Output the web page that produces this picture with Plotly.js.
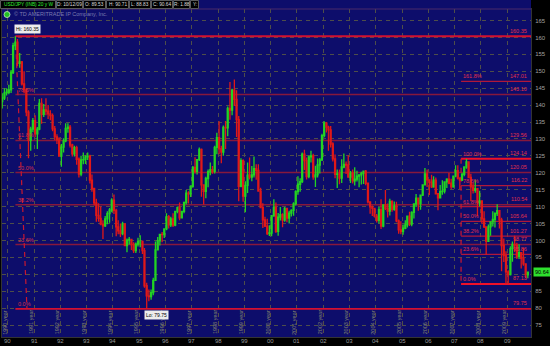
<!DOCTYPE html>
<html><head><meta charset="utf-8">
<script src="https://cdn.plot.ly/plotly-3.0.1.min.js"></script>
<style>html,body{margin:0;padding:0;background:#000;overflow:hidden}#chart{width:550px;height:346px}</style>
</head><body><div id="chart"></div><script>
// ---- Data: USD/JPY, monthly OHLC, Oct 1989 .. Oct 2009 ----
const startYear = 1989, startMonth = 10;
const openP = [
 141.0,142.1,143.6,
 143.8,144.5,149.6,157.6,158.6,152.3,152.8,146.3,144.5,137.9,129.6,132.9,
 135.4,131.5,132.9,140.5,137.3,138.6,138.2,137.4,136.9,133.0,130.6,129.7,
 124.9,127.6,129.4,133.1,133.5,128.2,125.6,127.4,124.0,119.6,123.8,123.9,
 124.7,124.9,117.8,115.4,111.1,107.4,106.5,104.8,104.3,106.4,107.9,109.0,
 111.9,108.9,104.0,102.8,102.0,104.9,98.5,100.1,100.3,98.8,97.0,98.9,
 99.7,99.7,97.0,86.6,83.6,83.4,84.6,88.2,97.2,99.9,101.8,101.7,
 103.4,107.0,104.6,106.4,104.5,108.6,109.7,106.7,108.6,111.2,114.0,113.8,
 116.0,121.6,120.4,123.9,126.9,116.4,114.5,118.3,120.3,120.9,120.4,127.5,
 130.4,127.1,126.1,133.4,133.3,139.0,138.5,144.4,141.7,135.7,116.0,123.6,
 113.1,116.3,119.3,118.7,119.4,121.2,120.7,114.6,109.7,106.1,104.2,102.0,
 102.2,107.3,109.8,102.7,106.9,107.6,106.0,109.5,106.6,108.1,108.9,110.8,
 114.4,116.6,117.4,125.5,123.6,118.9,124.7,125.0,118.8,119.4,122.3,123.8,
 131.0,134.7,133.5,132.7,128.5,124.1,119.5,119.7,118.4,121.7,122.5,122.3,
 118.7,119.9,117.6,118.1,119.0,119.4,119.8,120.5,116.9,111.4,109.9,109.5,
 107.2,105.9,109.1,104.2,110.5,109.5,108.7,111.5,109.2,110.2,105.8,103.1,
 102.6,103.6,104.6,107.2,104.8,108.3,110.8,112.5,110.9,113.4,116.4,119.7,
 117.9,117.2,115.8,117.8,113.8,112.6,114.4,114.6,117.3,118.1,116.9,115.8,
 119.0,120.6,118.4,117.8,119.5,121.7,123.2,118.6,115.8,114.8,115.3,111.2,
 111.7,106.4,104.0,99.7,104.0,105.5,106.2,107.9,108.8,106.1,98.5,95.5,
 90.7,89.9,97.6,98.8,98.6,95.3,96.4,94.7,93.1,89.8
];
const highP = [
 143.5,145.0,145.0,
 146.0,150.4,158.4,160.35,159.5,155.4,153.0,150.0,145.0,138.5,133.6,136.2,
 137.0,133.5,141.8,142.0,140.3,142.0,140.0,138.5,137.5,133.8,131.4,130.5,
 128.5,130.2,134.6,134.6,134.1,128.6,128.0,128.0,124.5,125.0,126.0,125.2,
 126.0,125.3,119.5,115.5,112.3,111.0,110.0,106.0,107.2,108.6,109.6,112.5,
 113.6,109.4,106.0,105.0,105.5,105.0,100.6,101.0,100.5,99.5,99.4,100.8,
 101.5,100.0,97.8,87.5,85.5,85.5,89.0,99.7,101.0,101.8,102.5,103.5,
 108.0,107.5,107.0,108.0,108.8,110.0,111.2,108.8,111.5,114.9,114.5,116.3,
 122.0,124.6,124.0,127.5,127.2,116.6,118.8,121.0,123.0,122.0,128.0,131.8,
 135.2,128.0,134.0,135.3,139.6,146.8,144.8,147.6,144.4,136.8,124.3,124.0,
 117.5,123.0,124.5,122.0,124.8,122.5,122.5,115.6,111.0,107.0,106.4,104.5,
 107.4,112.2,111.2,108.1,109.9,108.0,109.9,109.6,108.8,109.2,111.3,114.8,
 119.0,118.4,126.0,126.8,124.5,125.0,126.5,125.6,122.1,124.2,124.4,131.5,
 135.2,135.0,133.9,133.8,129.0,125.4,121.0,121.0,124.0,125.7,123.3,125.2,
 120.5,121.0,121.6,120.6,119.2,120.3,120.6,120.8,117.0,111.5,110.3,109.6,
 107.8,109.9,112.2,110.6,114.9,110.9,112.3,111.9,111.5,111.4,106.2,105.7,
 104.7,106.0,107.4,108.5,108.6,111.0,113.7,112.6,113.6,116.5,121.4,121.0,
 118.0,119.4,119.0,118.6,114.0,116.4,117.8,117.3,118.4,119.9,118.2,119.2,
 122.2,122.2,118.7,120.0,121.8,124.1,123.3,119.7,117.0,117.9,115.5,114.7,
 111.8,108.6,104.2,104.7,105.6,108.6,108.3,110.7,109.0,106.7,100.6,96.8,
 91.2,98.3,99.7,101.4,99.3,98.9,96.5,97.8,93.2,90.71
];
const lowP = [
 139.0,141.5,142.8,
 143.2,143.6,149.2,156.3,151.5,151.0,145.8,143.5,136.7,124.3,126.5,132.0,
 130.5,127.0,132.6,134.5,136.5,137.0,135.9,135.5,132.3,129.6,128.5,124.8,
 121.8,126.0,129.0,131.8,127.5,124.8,124.8,122.4,118.6,119.0,122.5,122.6,
 123.8,116.8,114.4,110.3,105.5,105.5,104.5,100.4,104.0,104.8,105.2,108.3,
 107.8,101.2,101.8,101.0,101.5,98.3,96.5,98.8,97.2,96.3,96.3,98.2,
 98.0,96.0,86.0,79.75,82.0,82.5,83.8,88.0,97.0,98.5,99.5,100.7,
 103.0,103.5,104.0,104.0,104.2,108.0,106.0,106.5,108.0,110.6,110.9,112.8,
 115.6,119.8,119.5,123.5,112.9,110.6,112.5,115.7,119.3,119.7,119.8,125.5,
 125.5,122.8,125.0,127.0,130.8,135.7,137.0,139.7,130.6,111.6,115.7,111.4,
 108.3,114.0,118.0,117.5,118.6,117.9,114.6,109.6,103.7,104.0,101.6,101.3,
 101.2,107.0,102.2,101.4,105.9,103.9,105.5,105.4,105.0,107.1,107.3,110.3,
 113.5,114.4,117.0,120.8,118.0,118.4,123.0,117.9,115.8,118.6,119.8,123.5,
 130.5,131.9,126.5,127.5,123.3,118.4,115.5,116.6,117.0,121.3,119.6,118.5,
 117.0,116.8,116.2,117.4,115.7,116.5,116.7,116.3,110.9,107.9,107.2,106.8,
 105.3,105.0,103.4,103.9,109.0,106.8,107.4,108.5,108.8,105.4,102.0,101.8,
 101.7,103.3,103.8,104.3,104.2,106.5,109.9,108.8,109.1,113.1,116.3,115.8,
 113.4,115.5,115.6,113.7,108.9,112.4,113.5,113.9,115.5,116.6,115.2,115.6,
 118.7,118.0,115.2,117.6,119.0,121.2,118.4,111.6,113.9,114.1,107.2,110.0,
 104.9,103.7,95.8,99.6,101.4,104.1,103.8,107.2,103.5,90.9,93.6,87.2,
 87.13,89.6,93.7,96.6,94.5,94.5,91.7,92.5,88.8,88.83
];
const closeP = [
 142.1,143.6,143.8,
 144.5,149.6,157.6,158.6,152.3,152.8,146.3,144.5,137.9,129.6,132.9,135.4,
 131.5,132.9,140.5,137.3,138.6,138.2,137.4,136.9,133.0,130.6,129.7,124.9,
 127.6,129.4,133.1,133.5,128.2,125.6,127.4,124.0,119.6,123.8,123.9,124.7,
 124.9,117.8,115.4,111.1,107.4,106.5,104.8,104.3,106.4,107.9,109.0,111.9,
 108.9,104.0,102.8,102.0,104.9,98.5,100.1,100.3,98.8,97.0,98.9,99.7,
 99.7,97.0,86.6,83.6,83.4,84.6,88.2,97.2,99.9,101.8,101.7,103.4,
 107.0,104.6,106.4,104.5,108.6,109.7,106.7,108.6,111.2,114.0,113.8,116.0,
 121.6,120.4,123.9,126.9,116.4,114.5,118.3,120.3,120.9,120.4,127.5,130.4,
 127.1,126.1,133.4,133.3,139.0,138.5,144.4,141.7,135.7,116.0,123.6,113.1,
 116.3,119.3,118.7,119.4,121.2,120.7,114.6,109.7,106.1,104.2,102.0,102.2,
 107.3,109.8,102.7,106.9,107.6,106.0,109.5,106.6,108.1,108.9,110.8,114.4,
 116.6,117.4,125.5,123.6,118.9,124.7,125.0,118.8,119.4,122.3,123.8,131.0,
 134.7,133.5,132.7,128.5,124.1,119.5,119.7,118.4,121.7,122.5,122.3,118.7,
 119.9,117.6,118.1,119.0,119.4,119.8,120.5,116.9,111.4,109.9,109.5,107.2,
 105.9,109.1,104.2,110.5,109.5,108.7,111.5,109.2,110.2,105.8,103.1,102.6,
 103.6,104.6,107.2,104.8,108.3,110.8,112.5,110.9,113.4,116.4,119.7,117.9,
 117.2,115.8,117.8,113.8,112.6,114.4,114.6,117.3,118.1,116.9,115.8,119.0,
 120.6,118.4,117.8,119.5,121.7,123.2,118.6,115.8,114.8,115.3,111.2,111.7,
 106.4,104.0,99.7,104.0,105.5,106.2,107.9,108.8,106.1,98.5,95.5,90.7,
 89.9,97.6,98.8,98.6,95.3,96.4,94.7,93.1,89.8,90.64
];
const lastPrice = 90.64;

// year ticks
const yearDates = ['1990-01-01','1991-01-01','1992-01-01','1993-01-01','1994-01-01','1995-01-01','1996-01-01','1997-01-01','1998-01-01','1999-01-01','2000-01-01','2001-01-01','2002-01-01','2003-01-01','2004-01-01','2005-01-01','2006-01-01','2007-01-01','2008-01-01','2009-01-01'];
const yearShort = ['90','91','92','93','94','95','96','97','98','99','00','01','02','03','04','05','06','07','08','09'];
const yearLong = ['1990 year','1991 year','1992 year','1993 year','1994 year','1995 year','1996 year','1997 year','1998 year','1999 year','2000 year','2001 year','2002 year','2003 year','2004 year','2005 year','2006 year','2007 year','2008 year','2009 year'];

// Fibonacci 1: 1990 high -> 1995 low
const fib1Start = '1990-04-16';
const fib1Anchor = ['1990-04-17','1990-09-24'];
const fib1Levels = [79.75, 98.77, 110.54, 120.05, 129.56, 143.10, 160.35];
const fib1Pct = ['0.0%','23.6%','38.2%','50.0%','61.8%','78.6%',''];
const fib1Price = ['79.75','98.77','110.54','120.05','129.56','143.10','160.35'];
// Fibonacci 2: 2007 high -> 2009 low
const fib2Start = '2007-04-01';
const fib2Levels = [87.13, 95.86, 101.27, 105.64, 110.00, 116.22, 124.14, 147.01];
const fib2Pct = ['0.0%','23.6%','38.2%','50.0%','61.8%','78.6%','100.0%','161.8%'];
const fib2Price = ['87.13','95.86','101.27','105.64','','116.22','124.14','147.01'];

const hiLabel = 'Hi: 160.35', hiDate = '1990-04-16', hiVal = 160.35;
const loLabel = 'Lo: 79.75', loDate = '1995-04-19', loVal = 79.75;
const headerItems = ['USD/JPY (INB) 20 y W','D: 10/12/09','O: 89.53','H: 90.71','L: 88.83','C: 90.64','R: 1.88','Y:'];
const copyrightText = '\u00a9 TD AMERITRADE IP Company, Inc.';

// ---- build ----
const dates = openP.map((_, i) => {
  const m0 = startMonth - 1 + i;
  const y = startYear + Math.floor(m0 / 12), m = (m0 % 12) + 1;
  return y + '-' + String(m).padStart(2, '0') + '-15';
});

const L = 2, R = 19, T = 9, B = 9, W = 550, H = 346;
const PW = W - L - R, PH = H - T - B;
const px = x => (x - L) / PW;
const py = y => (H - B - y) / PH;
const FONT = 'Liberation Sans, Arial, sans-serif';
const xEnd = '2009-11-28';

const shapes = [];
const ann = [];

// header strip (navy) above plot
shapes.push({type:'rect', xref:'paper', yref:'paper', x0:0, x1:1, y0:1, y1:py(0), fillcolor:'#0d0d6b', line:{width:0}, layer:'above'});
shapes.push({type:'line', xref:'paper', yref:'paper', x0:0, x1:1, y0:1, y1:1, line:{color:'#4a2a6a', width:1}, layer:'above'});
const hdrX = [0, 56, 83, 106, 129, 151, 173, 190, 199];
headerItems.forEach((t, i) => {
  shapes.push({type:'rect', xref:'paper', yref:'paper', x0:px(hdrX[i]+0.5), x1:px(hdrX[i+1]-0.5), y0:py(8.5), y1:py(0.5), fillcolor:'#000', line:{color:'#5a5a5a', width:1}, layer:'above'});
  ann.push({xref:'paper', yref:'paper', x:px((hdrX[i]+hdrX[i+1])/2), y:py(4.6), text:t, showarrow:false, xanchor:'center', yanchor:'middle',
    font:{family:FONT, size:4.8, color: i === 0 ? '#33ee33' : '#d8d8d8'}});
});
// copyright
shapes.push({type:'circle', xref:'paper', yref:'paper', x0:px(4), x1:px(10), y0:py(17.5), y1:py(11.5), fillcolor:'#22c022', line:{color:'#c8e8c8', width:0.8}, layer:'above'});
ann.push({xref:'paper', yref:'paper', x:px(12), y:py(14.5), text:copyrightText, showarrow:false, xanchor:'left', yanchor:'middle',
  font:{family:FONT, size:5.5, color:'#7c7cb0'}});

// fib 1 lines
fib1Levels.forEach((v, i) => {
  const edge = (i === 0 || i === fib1Levels.length - 1);
  shapes.push({type:'line', xref:'x', yref:'y', x0:fib1Start, x1:xEnd, y0:v, y1:v, layer:'between',
    line:{color: edge ? '#d41030' : '#86183c', width: edge ? 1.8 : 1.5}});
  if (fib1Pct[i]) ann.push({xref:'x', yref:'y', x:fib1Start, y:v, text:fib1Pct[i], showarrow:false, xanchor:'left', yanchor:'bottom', xshift:1, yshift:0,
    font:{family:FONT, size:5.5, color:'#d8304c'}});
  ann.push({xref:'paper', yref:'y', x:px(529), y:v, text:fib1Price[i], showarrow:false, xanchor:'right', yanchor:'bottom', yshift:0.5,
    font:{family:FONT, size:5.5, color:'#e0304c'}});
});
shapes.push({type:'line', xref:'x', yref:'y', x0:fib1Anchor[0], x1:fib1Anchor[1], y0:fib1Levels[fib1Levels.length-1], y1:fib1Levels[0],
  line:{color:'#c81830', width:1.2, dash:'5px,4px'}, layer:'between'});

// fib 2 lines
fib2Levels.forEach((v, i) => {
  const edge = (i === 0 || i === 6);
  shapes.push({type:'line', xref:'x', yref:'y', x0:fib2Start, x1:xEnd, y0:v, y1:v, layer:'between',
    line:{color: edge ? '#f01028' : '#b0183a', width: edge ? 1.8 : 1.3}});
  ann.push({xref:'x', yref:'y', x:fib2Start, y:v, text:fib2Pct[i], showarrow:false, xanchor:'left', yanchor:'bottom', xshift:0, yshift:0,
    font:{family:FONT, size:5.5, color:'#e0304c'}});
  if (fib2Price[i]) ann.push({xref:'paper', yref:'y', x:px(529), y:v, text:fib2Price[i], showarrow:false, xanchor:'right', yanchor:'bottom', yshift:0.5,
    font:{family:FONT, size:5.5, color:'#e0304c'}});
});
shapes.push({type:'line', xref:'x', yref:'y', x0:fib2Start, x1:fib2Start, y0:fib2Levels[6], y1:fib2Levels[0],
  line:{color:'#d01830', width:1.2, dash:'5px,4px'}, layer:'between'});

// year labels
yearDates.forEach((d, i) => {
  ann.push({xref:'x', yref:'paper', x:d, y:py(341), text:yearShort[i], showarrow:false, xanchor:'center', yanchor:'middle',
    font:{family:FONT, size:6, color:'#9a9a9a'}});
  ann.push({xref:'x', yref:'paper', x:d, y:py(322), text:yearLong[i], showarrow:false, textangle:-90, xanchor:'center', yanchor:'middle', xshift:-3,
    font:{family:FONT, size:5.5, color:'#858570'}});
});

// hi / lo bubbles
ann.push({xref:'x', yref:'y', x:hiDate, y:hiVal, text:hiLabel, showarrow:false, xanchor:'left', yanchor:'bottom', yshift:2, xshift:-1,
  bgcolor:'#ececec', borderpad:1, font:{family:FONT, size:5, color:'#000'}});
ann.push({xref:'x', yref:'y', x:loDate, y:loVal, text:loLabel, showarrow:false, xanchor:'left', yanchor:'top', yshift:-1.5, xshift:-3,
  bgcolor:'#ececec', borderpad:1, font:{family:FONT, size:5, color:'#000'}});
// last price box (covers the "90" tick label, as in the reference)
ann.push({xref:'paper', yref:'y', x:px(532.5), y:lastPrice, text:String(lastPrice), showarrow:false, xanchor:'left', yanchor:'middle',
  bgcolor:'#2ee02e', borderpad:1, font:{family:FONT, size:5.5, color:'#000'}});

const trace = {
  type:'candlestick', x:dates, open:openP, high:highP, low:lowP, close:closeP,
  increasing:{line:{color:'#22d422', width:1.3}, fillcolor:'#22d422'},
  decreasing:{line:{color:'#e01818', width:1.3}, fillcolor:'#e01818'},
  whiskerwidth:0, hoverinfo:'skip', showlegend:false
};

const layout = {
  width:W, height:H, margin:{l:L, r:R, t:T, b:B, pad:0},
  paper_bgcolor:'#000', plot_bgcolor:'#0d0d6b', showlegend:false,
  xaxis:{type:'date', range:['1989-10-12', xEnd], rangeslider:{visible:false}, tickmode:'array', tickvals:yearDates,
    showticklabels:false, ticks:'', showgrid:true, gridcolor:'#4e4e4a', griddash:'4px,4px', gridwidth:1,
    zeroline:false, showline:true, linecolor:'#333', mirror:true, fixedrange:true},
  yaxis:{side:'right', range:[71.46, 168.4], tick0:0, dtick:5, ticks:'', showgrid:true, gridcolor:'#4e4e4a', griddash:'4px,4px', gridwidth:1,
    tickfont:{family:FONT, size:6, color:'#a0a0a0'}, ticklabelstandoff:2,
    zeroline:false, showline:true, linecolor:'#333', mirror:true, fixedrange:true},
  shapes:shapes, annotations:ann
};
Plotly.newPlot('chart', [trace], layout, {staticPlot:true, displayModeBar:false});
</script></body></html>
